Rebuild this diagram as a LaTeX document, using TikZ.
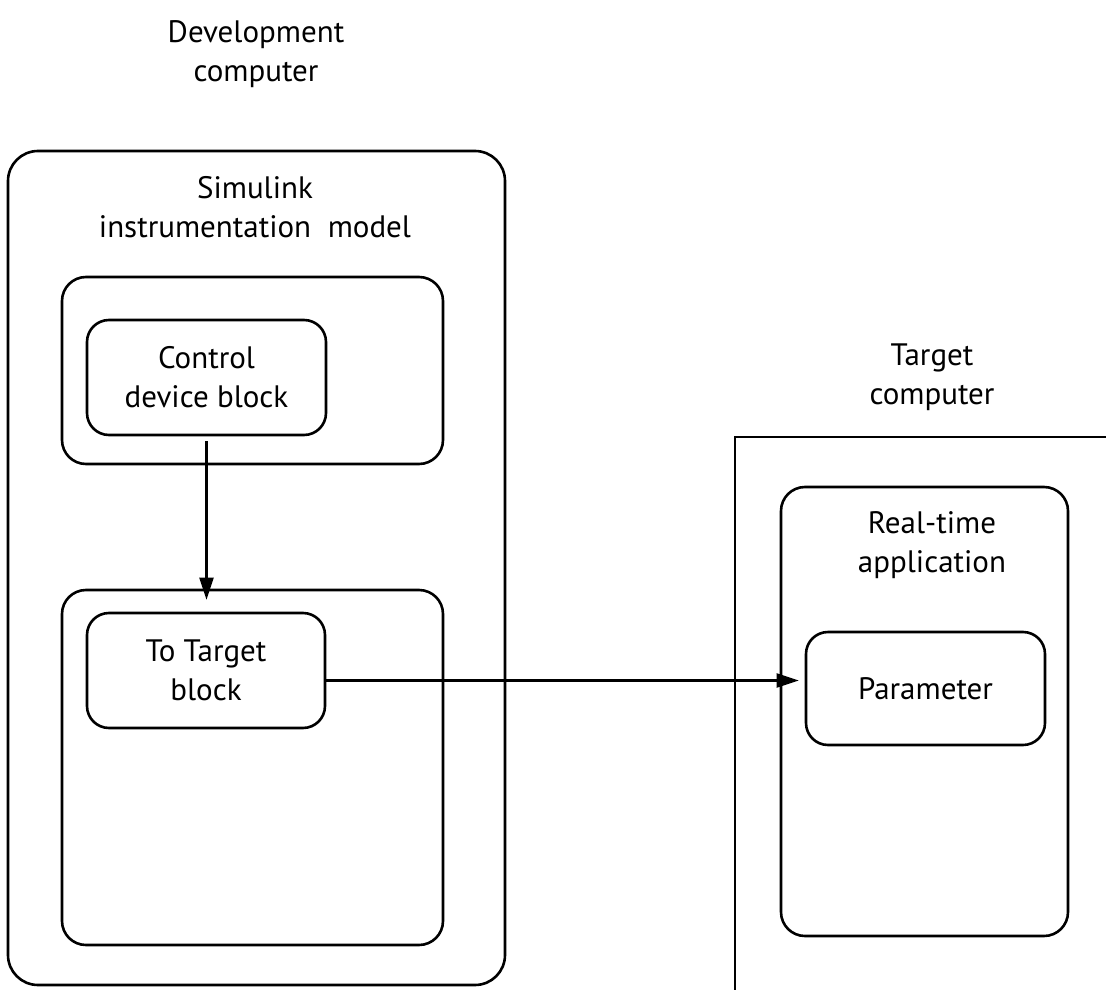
\documentclass[tikz,border=0pt]{standalone}
\usepackage{fontspec}
\setmainfont{PT Sans}
\usetikzlibrary{arrows.meta}
\begin{document}
\begin{tikzpicture}[
    x=1pt, y=-1pt, line width=2.6pt,
    every node/.style={font=\fontsize{31}{39}\selectfont, align=center},
    caja/.style={draw, rounded corners=#1, inner sep=0pt},
    caja/.default=24pt,
    flecha/.style={-{Triangle[length=22pt,width=14pt]}}]
    \useasboundingbox (0,0) rectangle (1106,990);
    % Computador de desarrollo con el modelo de Simulink.
    \node (devtxt) at (256,54) {Development\\computer};
    \node[caja=30pt, minimum width=497pt, minimum height=834pt] (dev) at (256.5,568) {};
    \node (simtxt) at (255,207) {Simulink\\instrumentation\ \ model};
    \node[caja, minimum width=381pt, minimum height=187pt] (top) at (252.5,370.5) {};
    \node[caja=22pt, minimum width=239pt, minimum height=115pt] (ctrl) at (206.5,377.5)
        {Control\\device block};
    \node[caja, minimum width=381pt, minimum height=355pt] (low) at (252.5,767.5) {};
    \node[caja=22pt, minimum width=238pt, minimum height=115pt] (tt) at (206,670.5)
        {To Target\\block};

    \node (tgttxt) at (932,377) {Target\\computer};
    \draw (735,990) |- (1106,437);
    \node[caja, minimum width=287pt, minimum height=449pt] (rta) at (924.5,711.5) {};
    \node (rtatxt) at (932,545) {Real-time\\application};
    \node[caja=22pt, minimum width=239pt, minimum height=113pt] (par) at (925.5,688.5)
        {Parameter};

    \draw[flecha, line width=2.2pt, shorten <=5pt, shorten >=-11pt]
        (ctrl.south) -- (ctrl.south |- low.north);
    \draw[flecha, line width=2.2pt, shorten >=6pt]
        ([yshift=-10pt]tt.east) -- ([yshift=-10pt]tt.east -| par.west);
\end{tikzpicture}
\end{document}
